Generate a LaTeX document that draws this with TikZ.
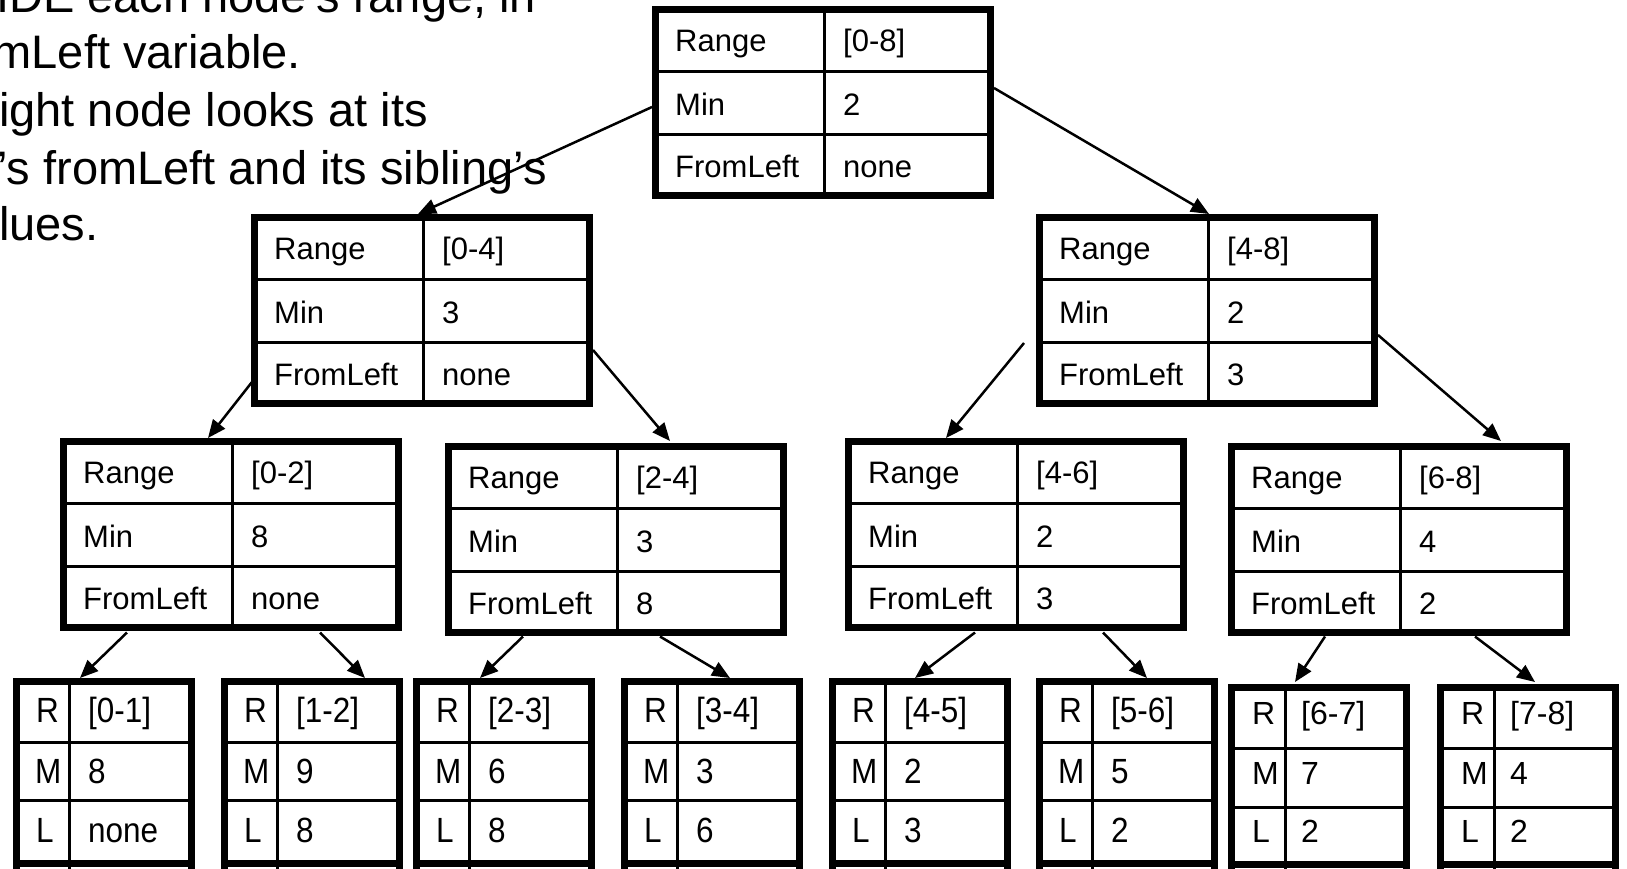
\documentclass[tikz,border=0pt]{standalone}
\usepackage{fontspec}
\setmainfont{Liberation Sans}
\newfontfamily\leafnarrow[FakeStretch=0.9]{Liberation Sans}
\usetikzlibrary{arrows.meta,calc}
\tikzset{
  tbl/.style={draw=black, line width=7pt, outer sep=3.5pt, fill=white, rectangle, inner sep=0pt, anchor=north west},
  gridline/.style={line width=3pt},
  sepline/.style={line width=7pt},
  celltext/.style={anchor=base west, inner sep=0pt, font=\fontsize{31}{37}\selectfont},
  leaftext/.style={anchor=base west, inner sep=0pt, font=\leafnarrow\fontsize{35}{40}\selectfont},
  leaftextb/.style={anchor=base west, inner sep=0pt, font=\fontsize{32}{38}\selectfont},
  bodytext/.style={anchor=base west, inner sep=0pt, font=\fontsize{47}{56}\selectfont},
  conn/.style={line width=2.5pt, -{Triangle[length=18pt,width=15pt]}},
}
% #1 name, #2 left, #3 top, #4 range, #5 min, #6 fromleft
\newcommand\bigtab[6]{%
  \node[tbl, minimum width=335pt, minimum height=185.5pt] (#1) at (#2,#3) {};
  \draw[gridline] ($(#1.north west)+(172,0)$) -- ($(#1.south west)+(172,0)$);
  \draw[gridline] ($(#1.north west)+(0,65)$) -- ($(#1.north east)+(0,65)$);
  \draw[gridline] ($(#1.north west)+(0,128)$) -- ($(#1.north east)+(0,128)$);
  \node[celltext] (#1-k1) at ($(#1.north west)+(23,45.5)$) {Range};
  \node[celltext] (#1-k2) at ($(#1.north west)+(23,109)$) {Min};
  \node[celltext] (#1-k3) at ($(#1.north west)+(23,171.5)$) {FromLeft};
  \node[celltext] (#1-v1) at ($(#1.north west)+(191,45.5)$) {#4};
  \node[celltext] (#1-v2) at ($(#1.north west)+(191,109)$) {#5};
  \node[celltext] (#1-v3) at ($(#1.north west)+(191,171.5)$) {#6};
}
\newcommand\leafA[6]{%
  \node[tbl, minimum width=175pt, minimum height=253pt] (#1) at (#2,#3) {};
  \draw[gridline] ($(#1.north west)+(56,0)$) -- ($(#1.south west)+(56,0)$);
  \draw[gridline] ($(#1.north west)+(0,64.5)$) -- ($(#1.north east)+(0,64.5)$);
  \draw[gridline] ($(#1.north west)+(0,122.5)$) -- ($(#1.north east)+(0,122.5)$);
  \draw[sepline] ($(#1.north west)+(0,185)$) -- ($(#1.north east)+(0,185)$);
  \node[leaftext] (#1-k1) at ($(#1.north west)+(23,44)$) {R};
  \node[leaftext] (#1-k2) at ($(#1.north west)+(22,105)$) {M};
  \node[leaftext] (#1-k3) at ($(#1.north west)+(23,164)$) {L};
  \node[leaftext] (#1-v1) at ($(#1.north west)+(75,44)$) {#4};
  \node[leaftext] (#1-v2) at ($(#1.north west)+(75,105)$) {#5};
  \node[leaftext] (#1-v3) at ($(#1.north west)+(75,164)$) {#6};
}
\newcommand\leafB[6]{%
  \node[tbl, minimum width=175pt, minimum height=253pt] (#1) at (#2,#3) {};
  \draw[gridline] ($(#1.north west)+(57,0)$) -- ($(#1.south west)+(57,0)$);
  \draw[gridline] ($(#1.north west)+(0,64)$) -- ($(#1.north east)+(0,64)$);
  \draw[gridline] ($(#1.north west)+(0,123)$) -- ($(#1.north east)+(0,123)$);
  \draw[sepline] ($(#1.north west)+(0,180)$) -- ($(#1.north east)+(0,180)$);
  \node[leaftextb] (#1-k1) at ($(#1.north west)+(24,40)$) {R};
  \node[leaftextb] (#1-k2) at ($(#1.north west)+(24,100)$) {M};
  \node[leaftextb] (#1-k3) at ($(#1.north west)+(24,158)$) {L};
  \node[leaftextb] (#1-v1) at ($(#1.north west)+(73,40)$) {#4};
  \node[leaftextb] (#1-v2) at ($(#1.north west)+(73,100)$) {#5};
  \node[leaftextb] (#1-v3) at ($(#1.north west)+(73,158)$) {#6};
}
\begin{document}
\begin{tikzpicture}[x=1pt,y=-1pt]
\useasboundingbox (0,0) rectangle (1627,868);
\fill[white] (0,0) rectangle (1627,868);
\clip (0,0) rectangle (1627,868);

% explanatory text (cut off at the left and top edges)
\node[bodytext] (t1) at (-4,12) {IDE each node’s range, in};
\node[bodytext] (t2) at (-7.5,68) {mLeft variable.};
\node[bodytext] (t3) at (-1,126) {ight node looks at its};
\node[bodytext] (t4) at (-3,184) {’s fromLeft and its sibling’s};
\node[bodytext] (t5) at (-1,240) {lues.};

% tables
\bigtab{top}{652}{6}{[0-8]}{2}{none}
\bigtab{n04}{251}{214}{[0-4]}{3}{none}
\bigtab{n48}{1036}{214}{[4-8]}{2}{3}
\bigtab{n02}{60}{438}{[0-2]}{8}{none}
\bigtab{n24}{445}{443}{[2-4]}{3}{8}
\bigtab{n46}{845}{438}{[4-6]}{2}{3}
\bigtab{n68}{1228}{443}{[6-8]}{4}{2}

\leafA{l1}{13}{678}{[0-1]}{8}{none}
\leafA{l2}{221}{678}{[1-2]}{9}{8}
\leafA{l3}{413}{678}{[2-3]}{6}{8}
\leafA{l4}{621}{678}{[3-4]}{3}{6}
\leafA{l5}{829}{678}{[4-5]}{2}{3}
\leafA{l6}{1036}{678}{[5-6]}{5}{2}
\leafB{l7}{1228}{684}{[6-7]}{7}{2}
\leafB{l8}{1437}{684}{[7-8]}{4}{2}

% connectors
\draw[conn] ($(top.north west)+(0,101)$) -- ($(n04.north west)+(167,0)$);
\draw[conn] ($(top.north east)+(0,82)$) -- ($(n48.north west)+(173,0)$);
\draw[conn] ($(n04.north west)+(1,168)$) -- ($(n02.north west)+(148,0)$);
\draw[conn] ($(n04.north east)+(0,136)$) -- ($(n24.north west)+(225,-2)$);
\draw[conn] ($(n48.north west)+(-12,129)$) -- ($(n46.north west)+(101,0)$);
\draw[conn] ($(n48.north east)+(0,121)$) -- ($(n68.north west)+(273,-2)$);
\draw[conn] ($(n02.south west)+(67,2)$) -- ($(l1.north west)+(67,0)$);
\draw[conn] ($(n02.south west)+(260,2)$) -- ($(l2.north west)+(144,0)$);
\draw[conn] ($(n24.south west)+(78,1)$) -- ($(l3.north west)+(67,0)$);
\draw[conn] ($(n24.south west)+(215,1)$) -- ($(l4.north west)+(109,0)$);
\draw[conn] ($(n46.south west)+(130,2)$) -- ($(l5.north west)+(86,0)$);
\draw[conn] ($(n46.south west)+(258,2)$) -- ($(l6.north west)+(111,0)$);
\draw[conn] ($(n68.south west)+(97,1)$) -- ($(l7.north west)+(67,-2)$);
\draw[conn] ($(n68.south west)+(247,1)$) -- ($(l8.north west)+(98,-2)$);
\end{tikzpicture}
\end{document}
